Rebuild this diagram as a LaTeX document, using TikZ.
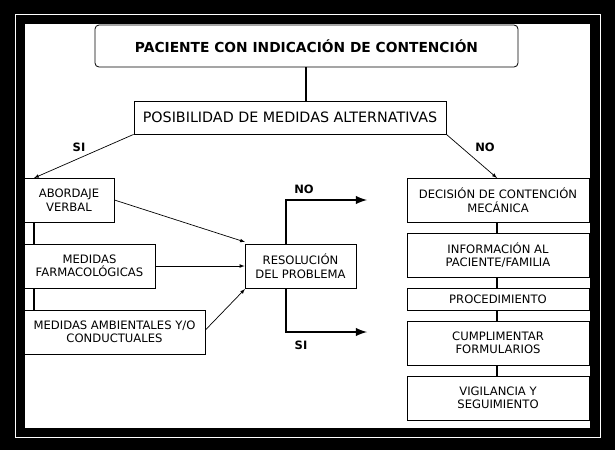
\documentclass[tikz,border=0pt]{standalone}
\usepackage{fontspec}
\setmainfont{DejaVu Sans}
\begin{document}
\begin{tikzpicture}[x=1pt,y=-1pt,
  bx/.style={draw,line width=0.8pt,fill=white,inner sep=0pt,align=center,font=\fontsize{11.6}{13.5}\selectfont},
  thk/.style={line width=2.8pt},
  lbl/.style={font=\bfseries\fontsize{11.5}{13}\selectfont},
  arr/.style={-latex,line width=0.7pt}]
\fill[black] (0,0) rectangle (615,450);
\draw[white,line width=1pt] (15,14) rectangle (600,437);
\fill[white] (25,24) rectangle (590,428);
\useasboundingbox (0,0) rectangle (615,450);
\node[bx,rounded corners=4pt,minimum width=423pt,minimum height=42pt,font=\bfseries\fontsize{13.8}{15}\selectfont] (top) at (306.5,46) {PACIENTE CON INDICACIÓN DE CONTENCIÓN};
\node[bx,minimum width=312pt,minimum height=33pt,font=\fontsize{14.3}{16}\selectfont] (pos) at (290,117.5) {POSIBILIDAD DE MEDIDAS ALTERNATIVAS};
\draw[thk] (top.south -| 306,0) -- (pos.north -| 306,0);
\node[bx,minimum width=90pt,minimum height=44pt] (abo) at (69,200) {ABORDAJE\\VERBAL};
\node[bx,minimum width=131pt,minimum height=44pt] (far) at (89.5,266) {MEDIDAS\\FARMACOLÓGICAS};
\node[bx,minimum width=181pt,minimum height=44pt] (amb) at (114.5,332) {MEDIDAS AMBIENTALES Y/O\\CONDUCTUALES};
\node[bx,minimum width=111pt,minimum height=44pt] (res) at (300.5,266) {RESOLUCIÓN\\DEL PROBLEMA};
\node[bx,minimum width=182pt,minimum height=44pt] (dec) at (498,200) {DECISIÓN DE CONTENCIÓN\\MECÁNICA};
\node[bx,minimum width=182pt,minimum height=44pt] (inf) at (498,255) {INFORMACIÓN AL\\PACIENTE/FAMILIA};
\node[bx,minimum width=182pt,minimum height=22pt] (pro) at (498,299) {PROCEDIMIENTO};
\node[bx,minimum width=182pt,minimum height=44pt] (cum) at (498,343) {CUMPLIMENTAR\\FORMULARIOS};
\node[bx,minimum width=182pt,minimum height=44pt] (vig) at (498,398) {VIGILANCIA Y\\SEGUIMIENTO};
\draw[arr] (pos.south west) -- (34,178);
\draw[arr] (pos.south east) -- (497,178);
\node[lbl] (si1) at (79,147) {SI};
\node[lbl] (no1) at (485,147) {NO};
\draw[thk] (abo.south -| 34,0) -- (far.north -| 34,0);
\draw[thk] (far.south -| 34,0) -- (amb.north -| 34,0);
\draw[arr] (abo.east |- 0,200) -- (245,242);
\draw[arr] (far.east) -- (res.west);
\draw[arr] (amb.east |- 0,330) -- (245,289);
\coordinate (noend) at (367,200);
\coordinate (siend) at (367,332);
\draw[thk,-latex] (286,244) -- (286,200) -- (noend);
\draw[thk,-latex] (286,288) -- (286,332) -- (siend);
\node[lbl] (no2) at (304,189) {NO};
\node[lbl] (si2) at (301,345) {SI};
\draw[thk] (dec.south -| 497,0) -- (inf.north -| 497,0);
\draw[thk] (inf.south -| 497,0) -- (pro.north -| 497,0);
\draw[thk] (pro.south -| 497,0) -- (cum.north -| 497,0);
\draw[thk] (cum.south -| 497,0) -- (vig.north -| 497,0);
\end{tikzpicture}
\end{document}
